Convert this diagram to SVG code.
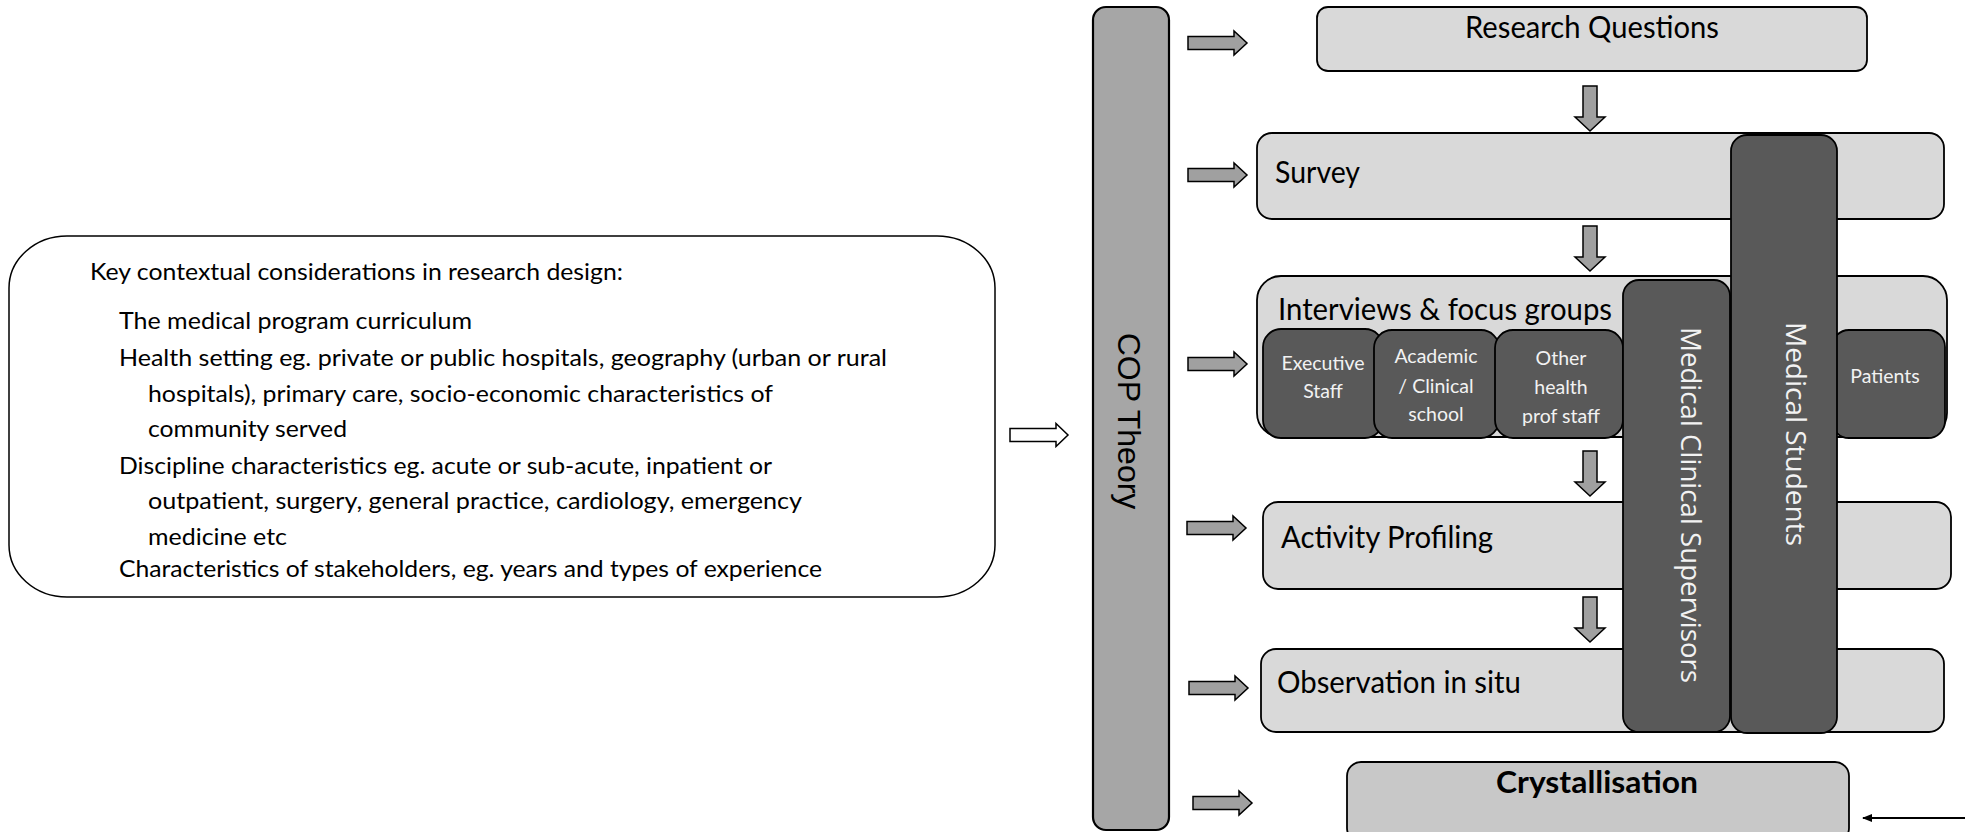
<svg xmlns="http://www.w3.org/2000/svg" width="1965" height="832" viewBox="0 0 1965 832">
<style>
.lt{fill:#d9d9d9;stroke:#000;stroke-width:1.8}
.dk{fill:#595959;stroke:#000;stroke-width:1.8}
.cop{fill:#a6a6a6;stroke:#000;stroke-width:2.2}
.cry{fill:#c8c8c8;stroke:#000;stroke-width:1.8}
.blk{fill:#a0a0a0;stroke:#000;stroke-width:1.5}
.t{font-family:Lato,"Liberation Sans",sans-serif;fill:#000}
.title{font-size:31px}
.ctx{font-size:23px}
.sub{font-family:Lato,"Liberation Sans",sans-serif;font-size:19.5px;fill:#f2f2f2;text-anchor:middle}
.vert{font-family:"Open Sans","Liberation Sans",sans-serif;font-size:27.5px;fill:#f2f2f2;text-anchor:middle}
</style>
<defs>
<path id="rarrow" d="M0,-6.5 H46 V-12 L59,0 L46,12 V6.5 H0 Z"/>
<path id="darrow" d="M-7,0 H7 V31 H15 L0,45 L-15,31 H-7 Z"/>
<marker id="ah" markerWidth="10" markerHeight="8" refX="9" refY="4" orient="auto" markerUnits="userSpaceOnUse">
<path d="M0,0 L10,4 L0,8 Z" fill="#000"/>
</marker>
</defs>

<g id="context">
<rect x="9" y="236" width="986" height="361" rx="58" ry="52" fill="#fff" stroke="#000" stroke-width="1.5"/>
<text class="t ctx" x="90" y="280" textLength="533" lengthAdjust="spacingAndGlyphs">Key contextual considerations in research design:</text>
<text class="t ctx" x="119" y="329" textLength="353" lengthAdjust="spacingAndGlyphs">The medical program curriculum</text>
<text class="t ctx" x="119" y="366" textLength="768" lengthAdjust="spacingAndGlyphs">Health setting eg. private or public hospitals, geography (urban or rural</text>
<text class="t ctx" x="148" y="402" textLength="625" lengthAdjust="spacingAndGlyphs">hospitals), primary care, socio-economic characteristics of</text>
<text class="t ctx" x="148" y="437" textLength="199" lengthAdjust="spacingAndGlyphs">community served</text>
<text class="t ctx" x="119" y="474" textLength="653" lengthAdjust="spacingAndGlyphs">Discipline characteristics eg. acute or sub-acute, inpatient or</text>
<text class="t ctx" x="148" y="509" textLength="654" lengthAdjust="spacingAndGlyphs">outpatient, surgery, general practice, cardiology, emergency</text>
<text class="t ctx" x="148" y="545" textLength="139" lengthAdjust="spacingAndGlyphs">medicine etc</text>
<text class="t ctx" x="119" y="577" textLength="703" lengthAdjust="spacingAndGlyphs">Characteristics of stakeholders, eg. years and types of experience</text>
</g>

<g id="cop-theory">
<rect class="cop" x="1093" y="7" width="76" height="823" rx="13"/>
<text transform="translate(1118,421) rotate(90)" font-family="'Liberation Sans',Arial,sans-serif" font-size="32" text-anchor="middle" fill="#000">COP Theory</text>
</g>

<g id="research-questions">
<rect class="lt" x="1317" y="7" width="550" height="64" rx="11"/>
<text class="t title" x="1592" y="38" text-anchor="middle" textLength="254" lengthAdjust="spacingAndGlyphs">Research Questions</text>
</g>

<g id="survey">
<rect class="lt" x="1257" y="133" width="687" height="86" rx="15"/>
<text class="t title" x="1275" y="183" textLength="85" lengthAdjust="spacingAndGlyphs">Survey</text>
</g>

<g id="interviews">
<rect class="lt" x="1257" y="276" width="690" height="161" rx="24"/>
<text class="t title" x="1278" y="320" textLength="334" lengthAdjust="spacingAndGlyphs">Interviews &amp; focus groups</text>
</g>

<g id="executive-staff">
<rect class="dk" x="1263" y="329" width="120" height="109" rx="18"/>
<text class="sub" x="1323" y="370">Executive</text>
<text class="sub" x="1323" y="398">Staff</text>
</g>

<g id="academic-clinical-school">
<rect class="dk" x="1374" y="330" width="125" height="108" rx="18"/>
<text class="sub" x="1436" y="363">Academic</text>
<text class="sub" x="1436" y="393">/ Clinical</text>
<text class="sub" x="1436" y="421">school</text>
</g>

<g id="other-health-prof-staff">
<rect class="dk" x="1495" y="330" width="128" height="108" rx="18"/>
<text class="sub" x="1561" y="365">Other</text>
<text class="sub" x="1561" y="394">health</text>
<text class="sub" x="1561" y="423">prof staff</text>
</g>

<g id="patients">
<rect class="dk" x="1832" y="330" width="113" height="108" rx="17"/>
<text class="sub" x="1885" y="383">Patients</text>
</g>

<g id="activity-profiling">
<rect class="lt" x="1263" y="502" width="688" height="87" rx="15"/>
<text class="t title" x="1281" y="548" textLength="212" lengthAdjust="spacingAndGlyphs">Activity Profiling</text>
</g>

<g id="observation">
<rect class="lt" x="1261" y="649" width="683" height="83" rx="15"/>
<text class="t title" x="1277" y="693" textLength="244" lengthAdjust="spacingAndGlyphs">Observation in situ</text>
</g>

<g id="medical-clinical-supervisors">
<rect class="dk" x="1623" y="280" width="107" height="452" rx="16"/>
<text class="vert" transform="translate(1681,505) rotate(90)" textLength="356" lengthAdjust="spacingAndGlyphs">Medical Clinical Supervisors</text>
</g>

<g id="medical-students">
<rect class="dk" x="1731" y="135" width="106" height="598" rx="16"/>
<text class="vert" transform="translate(1786,434) rotate(90)" textLength="224" lengthAdjust="spacingAndGlyphs">Medical Students</text>
</g>

<g id="crystallisation">
<rect class="cry" x="1347" y="762" width="502" height="80" rx="14"/>
<text x="1597" y="793" font-family="Lato,'Liberation Sans',sans-serif" font-weight="bold" font-size="31" text-anchor="middle" textLength="202" lengthAdjust="spacingAndGlyphs">Crystallisation</text>
</g>

<g id="connectors">
<path d="M1010,428.5 H1056 V423.5 L1068,435 L1056,446.5 V441.5 H1010 Z" fill="#fff" stroke="#000" stroke-width="1.5"/>
<use href="#rarrow" class="blk" x="1188" y="43"/>
<use href="#rarrow" class="blk" x="1188" y="175"/>
<use href="#rarrow" class="blk" x="1188" y="364"/>
<use href="#rarrow" class="blk" x="1187" y="528"/>
<use href="#rarrow" class="blk" x="1189" y="688"/>
<use href="#rarrow" class="blk" x="1193" y="803"/>
<use href="#darrow" class="blk" x="1590" y="86"/>
<use href="#darrow" class="blk" x="1590" y="226"/>
<use href="#darrow" class="blk" x="1590" y="451"/>
<use href="#darrow" class="blk" x="1590" y="597"/>
<line x1="1965" y1="818" x2="1863" y2="818" stroke="#000" stroke-width="2" marker-end="url(#ah)"/>
</g>
</svg>
